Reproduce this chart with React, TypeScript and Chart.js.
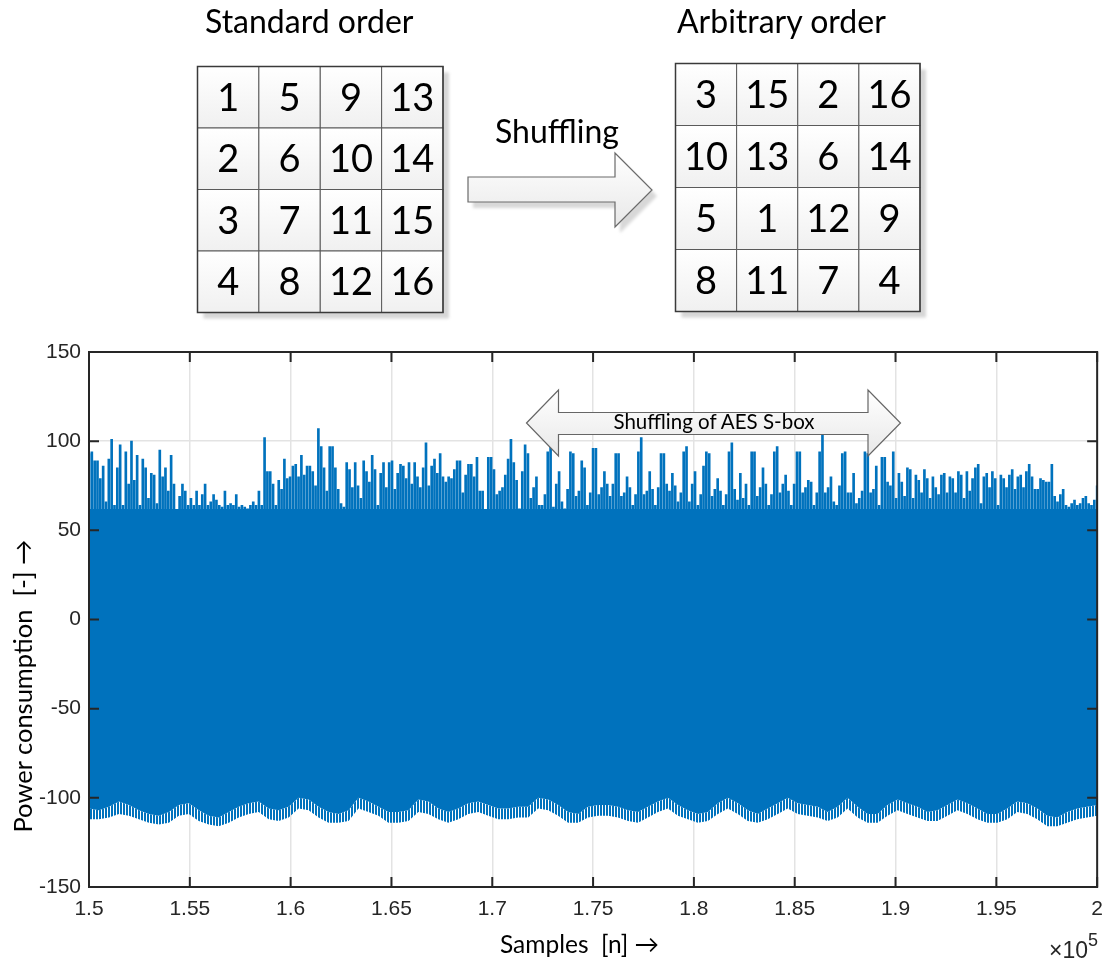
import React, { useEffect, useRef } from 'react';
import { Chart, registerables } from 'chart.js';

Chart.register(...registerables);

// ---------- data ----------
const SAMPLE_START = 150000;
const SAMPLE_END = 200000;
const xTickValues = [150000, 155000, 160000, 165000, 170000, 175000, 180000, 185000, 190000, 195000, 200000];
const xTickLabels = ['1.5', '1.55', '1.6', '1.65', '1.7', '1.75', '1.8', '1.85', '1.9', '1.95', '2'];
const yTickLabels = ['-150', '-100', '-50', '0', '50', '100', '150'];

const standardOrder = [
  [1, 5, 9, 13],
  [2, 6, 10, 14],
  [3, 7, 11, 15],
  [4, 8, 12, 16],
];
const arbitraryOrder = [
  [3, 15, 2, 16],
  [10, 13, 6, 14],
  [5, 1, 12, 9],
  [8, 11, 7, 4],
];

// upper spike peaks of the trace (evenly spaced in samples)
const spikePeaks = [
  93, 94, 89, 89, 79, 86, 66, 90, 101, 64, 85, 98, 64, 94, 76, 100, 78, 92, 64, 90,
  85, 68, 82, 81, 65, 95, 80, 85, 72, 92, 76, 61, 69, 76, 72, 64, 68, 64, 72, 64,
  70, 76, 64, 66, 70, 67, 64, 63, 72, 64, 65, 64, 70, 63, 64, 63, 62, 64, 66, 64,
  72, 64, 102, 83, 83, 76, 64, 78, 73, 90, 79, 80, 86, 87, 80, 92, 81, 86, 86, 83,
  75, 107, 97, 85, 72, 97, 97, 85, 73, 65, 63,
  88, 84, 74, 88, 75, 68, 89, 83, 77, 92, 84, 64, 82, 88, 74, 88, 89, 73, 82, 87,
  86, 79, 88, 76, 88, 80, 74, 85, 99, 75, 86, 90, 82, 93, 80, 77, 80, 79, 84, 89,
  89, 71, 81, 87, 87, 80, 91, 72, 72, 59, 91, 91, 84, 70, 72, 74, 81, 90, 101, 88,
  78, 62, 83, 98, 93, 68, 74, 80, 64, 64, 70, 94, 97, 63, 76, 83, 66, 62, 73, 94,
  93, 69, 72, 89, 85, 64, 71, 96,
  96, 70, 74, 83, 76, 69, 76, 93, 93, 69, 71, 80, 74, 64, 70, 94, 102, 70, 72, 83,
  73, 64, 74, 93, 93, 76, 72, 82, 75, 66, 71, 94, 97, 66, 76, 83, 64, 70, 86, 94,
  93, 69, 73, 79, 72, 64, 70, 94, 99, 73, 67, 82, 68, 76, 64, 94, 94, 69, 74, 85,
  76, 64, 70, 94, 97, 71, 76, 81, 72, 64, 76, 94, 94, 71, 74, 78, 77, 64, 71, 94,
  105, 71, 74, 80, 66, 64, 75, 93, 94,
  71, 71, 82, 65, 68, 72, 94, 93, 71, 73, 86, 64, 91, 91, 77, 75, 94, 68, 82, 77,
  69, 85, 84, 68, 81, 78, 71, 84, 79, 68, 80, 74, 70, 81, 82, 71, 80, 79, 71, 83,
  81, 68, 83, 72, 79, 85, 87, 65, 80, 82, 74, 83, 79, 64, 81, 79, 74, 81, 84, 73,
  80, 81, 74, 83, 87, 80, 73, 73, 79, 78, 77, 77, 87, 69, 66, 70, 73, 64, 63, 65,
  67, 64, 65, 68, 69, 65, 64, 67, 75,
];

// lower edge of the solid band
const lowerBody = [
  -106, -107, -105, -102, -104, -107, -109, -110, -108, -104,
  -103, -107, -110, -111, -108, -105, -103, -102, -106, -107,
  -105, -100, -101, -105, -108, -109, -107, -100, -102, -105,
  -108, -108, -107, -101, -102, -106, -108, -106, -103, -102,
  -104, -106, -106, -105, -105, -100, -101, -104, -108, -109,
  -105, -104,
  -104, -105, -107, -108, -105, -102, -100, -104, -107, -109,
  -108, -103, -100, -103, -107, -109, -106, -103, -100, -103,
  -104, -105, -108, -105, -100, -105, -109, -109, -104, -101,
  -103, -105, -108, -107, -104, -101, -103, -106, -109, -109,
  -106, -102, -103, -106, -110, -111, -108, -106, -105, -104,
];

// lowest tips of the downward excursions
const lowerTips = [
  -112, -112, -111, -109, -110, -112, -114, -115, -114, -110,
  -109, -113, -115, -116, -114, -111, -109, -108, -112, -113,
  -111, -106, -107, -111, -114, -114, -113, -106, -108, -110,
  -114, -114, -113, -108, -109, -112, -114, -112, -109, -108,
  -110, -112, -112, -111, -111, -106, -107, -110, -114, -114,
  -111, -110,
  -110, -111, -113, -114, -111, -108, -106, -110, -112, -114,
  -113, -109, -106, -109, -113, -114, -112, -109, -106, -109,
  -110, -111, -113, -111, -106, -111, -114, -114, -110, -107,
  -109, -111, -113, -113, -110, -107, -109, -112, -114, -114,
  -112, -108, -109, -112, -116, -116, -114, -112, -111, -110,
];

const BODY_TOP = 62;
const SPIKE_BASE = 58;

// ---------- style ----------
const BLUE = '#0072BD';
const AXIS = '#262626';
const TICK_FONT = "'Liberation Sans', Arial, sans-serif";
const TEXT_FONT = "Lato, 'Open Sans', sans-serif";

const framePlugin = {
  id: 'matlabFrame',
  afterDatasetsDraw(chart: any) {
    const { ctx, chartArea, scales } = chart;
    const { left, right, top, bottom } = chartArea;
    ctx.save();
    ctx.strokeStyle = AXIS;
    ctx.lineWidth = 2;
    ctx.strokeRect(left, top, right - left, bottom - top);
    ctx.beginPath();
    scales.x.ticks.forEach((t: any) => {
      const px = scales.x.getPixelForValue(t.value);
      ctx.moveTo(px, bottom);
      ctx.lineTo(px, bottom - 10);
      ctx.moveTo(px, top);
      ctx.lineTo(px, top + 10);
    });
    scales.y.ticks.forEach((t: any) => {
      const py = scales.y.getPixelForValue(t.value);
      ctx.moveTo(left, py);
      ctx.lineTo(left + 10, py);
      ctx.moveTo(right, py);
      ctx.lineTo(right - 10, py);
    });
    ctx.stroke();
    ctx.restore();
  },
};

function Grid({ x, y, w, h, values }: { x: number; y: number; w: number; h: number; values: number[][] }) {
  const cw = w / 4;
  const ch = h / 4;
  return (
    <g>
      <rect x={x + 6} y={y + 6} width={w} height={h} fill="#d6d6d6" filter="url(#soft)" />
      {values.map((row, r) =>
        row.map((v, c) => (
          <g key={`${r}-${c}`}>
            <rect
              x={x + c * cw}
              y={y + r * ch}
              width={cw}
              height={ch}
              fill="url(#cellGrad)"
              stroke="#5a5a5a"
              strokeWidth={1}
            />
            <text
              x={x + c * cw + cw / 2}
              y={y + r * ch + ch / 2 + 13.5}
              textAnchor="middle"
              fontFamily={TEXT_FONT}
              fontSize={38}
              fill="#000"
            >
              {v}
            </text>
          </g>
        ))
      )}
      <rect x={x} y={y} width={w} height={h} fill="none" stroke="#3a3a3a" strokeWidth={1.5} />
    </g>
  );
}

export default function App() {
  const ref = useRef<HTMLCanvasElement | null>(null);

  useEffect(() => {
    const canvas = ref.current;
    if (!canvas) return;
    const ctx = canvas.getContext('2d');
    if (!ctx) return;

    const pc = document.createElement('canvas');
    pc.width = 3;
    pc.height = 4;
    const pctx = pc.getContext('2d');
    if (pctx) {
      pctx.fillStyle = BLUE;
      pctx.fillRect(0, 0, 2, 4);
    }
    const stripes = ctx.createPattern(pc, 'repeat') || BLUE;

    const spikeStep = (SAMPLE_END - SAMPLE_START) / (spikePeaks.length - 1);
    const envStep = (SAMPLE_END - SAMPLE_START) / (lowerBody.length - 1);

    const chart = new Chart(ctx, {
      type: 'line',
      data: {
        datasets: [
          {
            type: 'line',
            label: 'body',
            data: lowerBody.map((v, i) => ({ x: SAMPLE_START + i * envStep, y: v })),
            fill: { value: BODY_TOP },
            backgroundColor: BLUE,
            borderColor: 'rgba(0,0,0,0)',
            borderWidth: 0,
            pointRadius: 0,
            tension: 0,
          },
          {
            type: 'line',
            label: 'tips',
            data: lowerTips.map((v, i) => ({ x: SAMPLE_START + i * envStep, y: v })),
            fill: '-1',
            backgroundColor: stripes as any,
            borderColor: 'rgba(0,0,0,0)',
            borderWidth: 0,
            pointRadius: 0,
            tension: 0,
          },
          {
            type: 'bar',
            label: 'spikes',
            data: spikePeaks.map((v, i) => ({ x: SAMPLE_START + i * spikeStep, y: [SPIKE_BASE, v] })) as any,
            backgroundColor: BLUE,
            borderWidth: 0,
            barThickness: 2,
          },
        ] as any,
      },
      options: {
        responsive: false,
        maintainAspectRatio: false,
        animation: false,
        events: [],
        layout: { padding: { top: 352, right: 14, left: 0, bottom: 0 } },
        plugins: {
          legend: { display: false },
          tooltip: { enabled: false },
        },
        scales: {
          x: {
            type: 'linear',
            min: SAMPLE_START,
            max: SAMPLE_END,
            offset: false,
            afterBuildTicks: (scale: any) => {
              scale.ticks = xTickValues.map((v) => ({ value: v }));
            },
            ticks: {
              callback: (_v: any, i: number) => xTickLabels[i],
              font: { family: TICK_FONT, size: 21 },
              color: AXIS,
              padding: 10,
              maxRotation: 0,
              autoSkip: false,
            },
            grid: { color: '#e3e3e3', lineWidth: 1.5, drawTicks: false, offset: false },
            border: { display: false },
            afterFit: (scale: any) => {
              scale.height = 73;
            },
          },
          y: {
            type: 'linear',
            min: -150,
            max: 150,
            ticks: {
              stepSize: 50,
              callback: (_v: any, i: number) => yTickLabels[i],
              font: { family: TICK_FONT, size: 21 },
              color: AXIS,
              padding: 8,
            },
            grid: { color: '#e3e3e3', lineWidth: 1.5, drawTicks: false },
            border: { display: false },
            afterFit: (scale: any) => {
              scale.width = 89;
            },
          },
        },
      } as any,
      plugins: [framePlugin],
    });

    return () => chart.destroy();
  }, []);

  return (
    <div
      style={{
        position: 'absolute',
        left: 0,
        top: 0,
        width: 1113,
        height: 960,
        overflow: 'hidden',
        background: '#fff',
      }}
    >
      <canvas
        ref={ref}
        width={1113}
        height={960}
        style={{ position: 'absolute', left: 0, top: 0, width: 1113, height: 960, display: 'block' }}
      />
      <svg
        width={1113}
        height={960}
        style={{ position: 'absolute', left: 0, top: 0, pointerEvents: 'none' }}
      >
        <defs>
          <linearGradient id="cellGrad" x1="0" y1="0" x2="0" y2="1">
            <stop offset="0" stopColor="#ffffff" />
            <stop offset="1" stopColor="#f0f0f0" />
          </linearGradient>
          <linearGradient id="arrowGrad" x1="0" y1="0" x2="0" y2="1">
            <stop offset="0" stopColor="#ffffff" />
            <stop offset="1" stopColor="#e8e8e8" />
          </linearGradient>
          <filter id="soft" x="-10%" y="-10%" width="120%" height="120%">
            <feGaussianBlur stdDeviation="1.5" />
          </filter>
        </defs>

        {/* top diagram */}
        <text x={205} y={33} fontFamily={TEXT_FONT} fontSize={32} fill="#000">
          Standard order
        </text>
        <text x={677} y={33} fontFamily={TEXT_FONT} fontSize={32} fill="#000">
          Arbitrary order
        </text>
        <Grid x={197.5} y={66.5} w={245.5} h={246} values={standardOrder} />
        <Grid x={675.5} y={63.5} w={244.5} h={248} values={arbitraryOrder} />

        <polygon
          points="468,177 615,177 615,153 652,190 615,227 615,202 468,202"
          fill="#d8d8d8"
          transform="translate(5,6)"
          filter="url(#soft)"
        />
        <polygon
          points="468,177 615,177 615,153 652,190 615,227 615,202 468,202"
          fill="url(#arrowGrad)"
          stroke="#6a6a6a"
          strokeWidth={1.2}
        />
        <text x={495} y={143} fontFamily={TEXT_FONT} fontSize={32} fill="#000">
          Shuffling
        </text>

        {/* annotation in chart */}
        <polygon
          points="526.5,423 558.5,390 558.5,412.5 868,412.5 868,390 900.5,423 868,456 868,434.5 558.5,434.5 558.5,456"
          fill="url(#arrowGrad)"
          stroke="#666"
          strokeWidth={1.2}
        />
        <text x={714} y={429} textAnchor="middle" fontFamily={TEXT_FONT} fontSize={20.5} fill="#000">
          Shuffling of AES S-box
        </text>

        {/* axis titles */}
        <text
          x={500}
          y={953}
          textAnchor="start"
          fontFamily={TEXT_FONT}
          fontSize={24.5}
          fill="#000"
          style={{ whiteSpace: 'pre' }}
        >
          {'Samples  [n] \u2192'}
        </text>
        <text
          transform="translate(32,686) rotate(-90)"
          textAnchor="middle"
          fontFamily={TEXT_FONT}
          fontSize={25.5}
          fill="#000"
          style={{ whiteSpace: 'pre' }}
        >
          {'Power consumption  [-] \u2192'}
        </text>
        <text x={1049} y={958} fontFamily={TICK_FONT} fontSize={23} fill={AXIS}>
          {'\u00d710'}
          <tspan dy={-12} fontSize={18}>
            5
          </tspan>
        </text>
      </svg>
    </div>
  );
}
